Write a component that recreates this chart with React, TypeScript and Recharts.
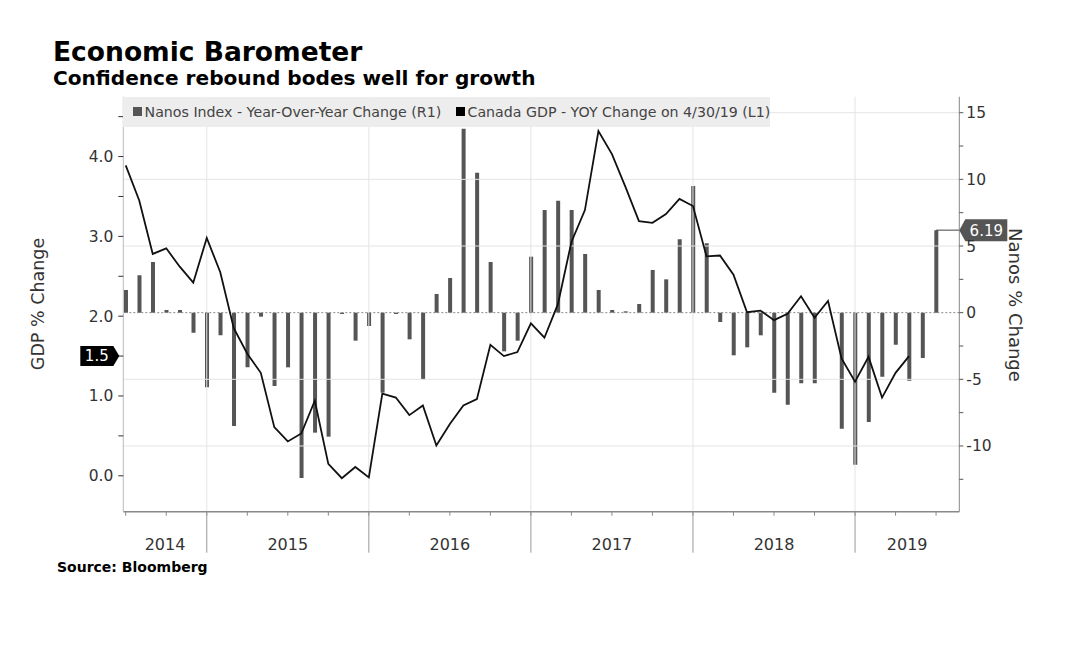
import {
  ComposedChart,
  Bar,
  Line,
  XAxis,
  YAxis,
  ReferenceLine,
  ReferenceDot,
  Legend,
} from 'recharts';

// monthly series, index 0 = mid 2014, index 60 = mid 2019
const nanosChange = [
  1.7, 2.8, 3.8, 0.2, 0.2, -1.5, -5.6, -1.7, -8.5, -4.1, -0.3, -5.5,
  -4.1, -12.4, -9.0, -9.3, -0.1, -2.1, -1.0, -6.0, -0.1, -2.0, -5.0, 1.4,
  2.6, 13.8, 10.5, 3.8, -2.9, -2.1, 4.2, 7.7, 8.4, 7.7, 4.4, 1.7,
  0.2, 0.1, 0.65, 3.2, 2.5, 5.5, 9.5, 5.2, -0.7, -3.2, -2.6, -1.7,
  -6.0, -6.9, -5.3, -5.3, 0, -8.7, -11.4, -8.2, -4.8, -2.4, -5.1, -3.4,
  6.19,
];

const gdpChange = [
  3.89, 3.45, 2.78, 2.85, 2.62, 2.42, 2.98, 2.55, 1.85, 1.53, 1.29, 0.61,
  0.43, 0.53, 0.94, 0.15, -0.03, 0.11, -0.02, 1.03, 0.98, 0.76, 0.88, 0.38,
  0.65, 0.88, 0.96, 1.64, 1.5, 1.55, 1.91, 1.73, 2.15, 2.93, 3.33, 4.32,
  4.03, 3.62, 3.19, 3.17, 3.28, 3.47, 3.38, 2.75, 2.76, 2.52, 2.05, 2.07,
  1.95, 2.03, 2.25, 1.98, 2.19, 1.47, 1.18, 1.49, 0.98, 1.29, 1.5,
];

const yearLabels = ['2014', '2015', '2016', '2017', '2018', '2019'];
const yearStarts = [6, 18, 30, 42, 54];
const quarterTicks = Array.from({ length: 21 }, (_, i) => i * 3);
const leftTicks = [0, 0.5, 1, 1.5, 2, 2.5, 3, 3.5, 4, 4.5];
const rightTicks = [-12.5, -10, -7.5, -5, -2.5, 0, 2.5, 5, 7.5, 10, 12.5, 15];
const rightGrid = [-10, -5, 5, 10, 15];

const X_DOMAIN: [number, number] = [-0.18, 61.72];
const LEFT_DOMAIN: [number, number] = [-0.45, 4.75];
const RIGHT_DOMAIN: [number, number] = [-14.93, 16.2];

const FONT = "'DejaVu Sans', sans-serif";

const chartData = nanosChange.map((v, i) => ({
  month: i,
  nanos: v,
  gdp: i < gdpChange.length ? gdpChange[i] : null,
}));

const bounds = [X_DOMAIN[0], ...yearStarts, X_DOMAIN[1]];
const yearMids = yearLabels.map((_, i) => (bounds[i] + bounds[i + 1]) / 2);

const nanosLast = nanosChange[nanosChange.length - 1];
const gdpLast = gdpChange[gdpChange.length - 1];

const QuarterTick = ({ x, y, payload }: any) => (
  <g>
    <line x1={x} x2={x} y1={y} y2={y + 4} stroke='#888' />
    {yearStarts.includes(payload.value) && (
      <line x1={x} x2={x} y1={y} y2={y + 41} stroke='#999' />
    )}
  </g>
);

const YearTick = ({ x, y, index }: any) => (
  <text
    x={x}
    y={y + 37}
    textAnchor='middle'
    fill='#333'
    fontSize={16}
    fontFamily={FONT}
  >
    {yearLabels[index]}
  </text>
);

// value tag with a pointer, drawn next to an axis
const ValueTag = ({ cx, cy, text, fill, side }: any) => {
  const w = text.length * 9 + 6;
  const h = side === 'right' ? 22 : 20;
  if (side === 'right') {
    const x0 = cx + 6;
    return (
      <g>
        <path
          d={`M${cx},${cy} L${x0},${cy - h / 2} L${x0 + w},${cy - h / 2} L${x0 + w},${cy + h / 2} L${x0},${cy + h / 2} Z`}
          fill={fill}
        />
        <text
          x={x0 + w / 2}
          y={cy}
          dy='0.36em'
          textAnchor='middle'
          fill='#fff'
          fontSize={15}
          fontFamily={FONT}
        >
          {text}
        </text>
      </g>
    );
  }
  const tip = cx - 4;
  const x1 = tip - 6;
  return (
    <g>
      <path
        d={`M${tip},${cy} L${x1},${cy - h / 2} L${x1 - w},${cy - h / 2} L${x1 - w},${cy + h / 2} L${x1},${cy + h / 2} Z`}
        fill={fill}
      />
      <text
        x={x1 - w / 2}
        y={cy}
        dy='0.36em'
        textAnchor='middle'
        fill='#fff'
        fontSize={15}
        fontFamily={FONT}
      >
        {text}
      </text>
    </g>
  );
};

const LegendBox = () => (
  <div
    style={{
      background: '#ededed',
      height: 30,
      display: 'flex',
      alignItems: 'center',
      paddingLeft: 10,
      fontFamily: FONT,
      fontSize: 14.2,
      color: '#444',
      whiteSpace: 'nowrap',
    }}
  >
    <span style={{ width: 9, height: 9, background: '#555', marginRight: 3 }} />
    <span>Nanos Index - Year-Over-Year Change (R1)</span>
    <span
      style={{
        width: 9,
        height: 9,
        background: '#000',
        marginLeft: 15,
        marginRight: 3,
      }}
    />
    <span>Canada GDP - YOY Change on 4/30/19 (L1)</span>
  </div>
);

const App = () => {
  return (
    <div
      style={{
        position: 'absolute',
        left: 0,
        top: 0,
        width: 1080,
        height: 653,
        background: '#fff',
      }}
    >
      <svg
        width={1080}
        height={653}
        style={{ position: 'absolute', left: 0, top: 0 }}
      >
        <text x={53} y={61} fontFamily={FONT} fontWeight='bold' fontSize={26.5}>
          Economic Barometer
        </text>
        <text x={53} y={85} fontFamily={FONT} fontWeight='bold' fontSize={20.1}>
          Confidence rebound bodes well for growth
        </text>
        <text x={57} y={572} fontFamily={FONT} fontWeight='bold' fontSize={14}>
          Source: Bloomberg
        </text>
        <text
          x={38}
          y={304}
          transform='rotate(-90 38 304)'
          textAnchor='middle'
          dominantBaseline='central'
          fontFamily={FONT}
          fontSize={17.5}
          fill='#333'
        >
          GDP % Change
        </text>
        <text
          x={1015}
          y={305}
          transform='rotate(90 1015 305)'
          textAnchor='middle'
          dominantBaseline='central'
          fontFamily={FONT}
          fontSize={18}
          fill='#333'
        >
          Nanos % Change
        </text>
      </svg>
      <div style={{ position: 'absolute', left: 0, top: 0 }}>
        <ComposedChart
          width={1080}
          height={653}
          data={chartData}
          margin={{ top: 96.7, right: 60.7, bottom: 139.3, left: 63.3 }}
        >
          <XAxis
            xAxisId='m'
            dataKey='month'
            type='number'
            domain={X_DOMAIN}
            allowDataOverflow
            ticks={quarterTicks}
            interval={0}
            height={1}
            tickSize={0}
            tickMargin={0}
            tickLine={false}
            axisLine={{ stroke: '#888', strokeWidth: 1.5 }}
            tick={(p: any) => <QuarterTick {...p} />}
          />
          <XAxis
            xAxisId='y'
            dataKey='month'
            type='number'
            domain={X_DOMAIN}
            allowDataOverflow
            ticks={yearMids}
            interval={0}
            height={1}
            tickSize={0}
            tickMargin={0}
            tickLine={false}
            axisLine={false}
            tick={(p: any) => <YearTick {...p} />}
          />
          <YAxis
            yAxisId='left'
            orientation='left'
            width={60}
            domain={LEFT_DOMAIN}
            allowDataOverflow
            ticks={leftTicks}
            interval={0}
            axisLine={{ stroke: '#bbb' }}
            tickLine={{ stroke: '#333' }}
            tickSize={5}
            tickMargin={5}
            tick={{ fill: '#333', fontSize: 15.5, fontFamily: FONT }}
            tickFormatter={(v: number) => (Number.isInteger(v) ? v.toFixed(1) : '')}
          />
          <YAxis
            yAxisId='right'
            orientation='right'
            width={60}
            domain={RIGHT_DOMAIN}
            allowDataOverflow
            ticks={rightTicks}
            interval={0}
            axisLine={{ stroke: '#888' }}
            tickLine={{ stroke: '#555' }}
            tickSize={4}
            tickMargin={3}
            tick={{ fill: '#333', fontSize: 15.5, fontFamily: FONT }}
            tickFormatter={(v: number) => (v % 5 === 0 ? String(v) : '')}
          />

          {rightGrid.map((v) => (
            <ReferenceLine
              key={'h' + v}
              xAxisId='m'
              yAxisId='right'
              y={v}
              stroke='#e4e4e4'
            />
          ))}
          {yearStarts.map((v) => (
            <ReferenceLine
              key={'v' + v}
              xAxisId='m'
              yAxisId='right'
              x={v}
              stroke='#e4e4e4'
            />
          ))}
          <ReferenceLine
            xAxisId='m'
            yAxisId='right'
            y={0}
            stroke='#888'
            strokeDasharray='2 2'
          />

          <Bar
            xAxisId='m'
            yAxisId='right'
            dataKey='nanos'
            fill='#555'
            barSize={4}
            isAnimationActive={false}
          />
          <Line
            xAxisId='m'
            yAxisId='left'
            dataKey='gdp'
            stroke='#111'
            strokeWidth={1.8}
            dot={false}
            activeDot={false}
            isAnimationActive={false}
          />

          <ReferenceLine
            xAxisId='m'
            yAxisId='right'
            segment={[
              { x: nanosChange.length - 1, y: nanosLast },
              { x: X_DOMAIN[1], y: nanosLast },
            ]}
            stroke='#444'
            ifOverflow='visible'
          />
          <ReferenceDot
            xAxisId='m'
            yAxisId='right'
            x={X_DOMAIN[1]}
            y={nanosLast}
            r={0}
            ifOverflow='visible'
            shape={(p: any) => (
              <ValueTag cx={p.cx} cy={p.cy} text={String(nanosLast)} fill='#555' side='right' />
            )}
          />
          <ReferenceDot
            xAxisId='m'
            yAxisId='left'
            x={X_DOMAIN[0]}
            y={gdpLast}
            r={0}
            ifOverflow='visible'
            shape={(p: any) => (
              <ValueTag cx={p.cx} cy={p.cy} text={String(gdpLast)} fill='#000' side='left' />
            )}
          />

          <Legend
            layout='vertical'
            align='center'
            verticalAlign='middle'
            wrapperStyle={{ position: 'absolute', left: 123.3, top: 96.7, width: 647, height: 30 }}
            content={() => <LegendBox />}
          />
        </ComposedChart>
      </div>
    </div>
  );
};

export default App;
